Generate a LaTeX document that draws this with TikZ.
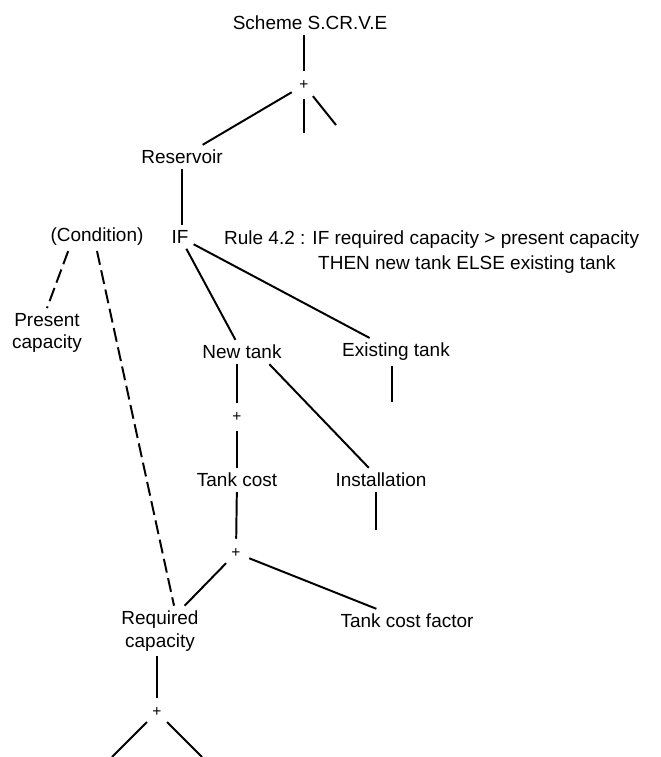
\documentclass[tikz,border=0pt]{standalone}
\usepackage{fontspec}
\setmainfont{Liberation Sans}
\begin{document}
\begin{tikzpicture}[x=0.025cm, y=-0.025cm, line width=1.4pt,
    every node/.style={inner sep=3pt, text=black, font=\fontsize{13.5}{16}\selectfont},
    sumnode/.style={circle, inner sep=3.5pt, font=\fontsize{11}{11}\selectfont},
    condlink/.style={dash pattern=on 10pt off 4pt}]

\useasboundingbox (0,0) rectangle (661,757);

% Define tree nodes
\node (scheme) at (310,23) {Scheme S.CR.V.E};
\node[sumnode] (plusA) at (304,85) {+};
\node (res) at (182,157) {Reservoir};
\node (cond) at (97,237) {(Condition)};
\node (if) at (180,237) {IF};
\node[anchor=west] (rule1) at (219,240) {Rule 4.2 : IF required capacity > present capacity};
\node[anchor=west] (rule2) at (313,265) {THEN new tank ELSE existing tank};
\node[align=center] (present) at (47,333) {Present\\capacity};
\node (newtank) at (242,352) {New tank};
\node (existing) at (396,352) {Existing tank};
\node[sumnode] (plusB) at (237,417) {+};
\node (tankcost) at (237,480) {Tank cost};
\node (install) at (381,480) {Installation};
\node[sumnode] (plusC) at (236,553) {+};
\node[align=center] (req) at (160,631) {Required\\capacity};
\node (factor) at (407,621) {Tank cost factor};
\node[sumnode] (plusD) at (157,712) {+};

% Free ends of the open branches
\coordinate (topmid) at (304,133);
\coordinate (topright) at (336,125);
\coordinate (exend) at (392,402);
\coordinate (instend) at (376,530);
\coordinate (botleft) at (112,757);
\coordinate (botright) at (202,757);

% Draw branches
\draw (scheme.south -| plusA) -- (plusA);
\draw (plusA) -- (res);
\draw (plusA) -- (topmid);
\draw (plusA) -- (topright);
\draw (res.south) -- (res.south |- if.north);
\draw (if) -- (newtank);
\draw (if) -- (existing);
\draw (newtank.south -| plusB) -- (plusB);
\draw (plusB) -- (tankcost);
\draw (newtank.-24) -- (install.135);
\draw (existing.south -| exend) -- (exend);
\draw (install.south -| instend) -- (instend);
\draw (tankcost) -- (plusC);
\draw (plusC) -- (req);
\draw (plusC) -- (factor);
\draw (req.south -| plusD) -- (plusD);
\draw (plusD) -- (botleft);
\draw (plusD) -- (botright);

% Draw condition links
\draw[condlink] (cond.206) -- (present.north);
\draw[condlink] (cond.south) -- (req.61);

\end{tikzpicture}
\end{document}
